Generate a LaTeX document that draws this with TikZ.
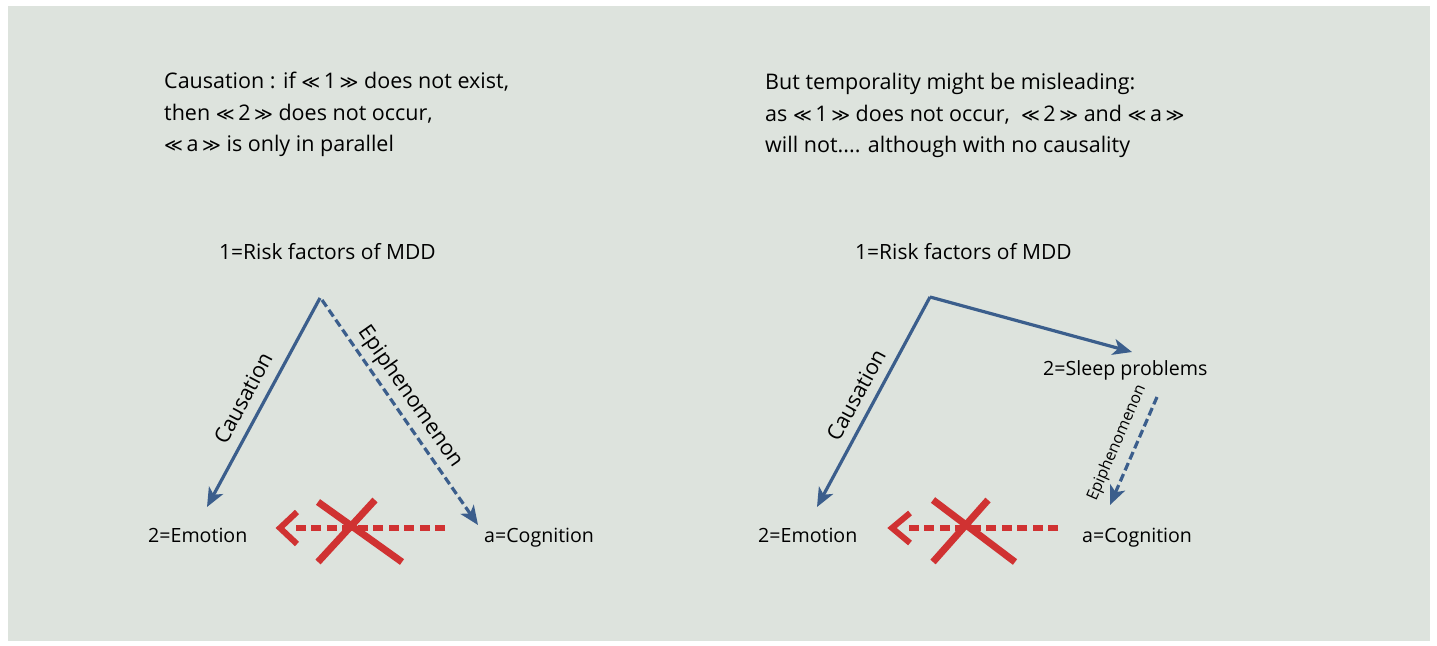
\documentclass[tikz,border=0pt]{standalone}
\usepackage{fontspec}
\setmainfont{Open Sans}
\newfontfamily\symf{DejaVu Sans}
\usetikzlibrary{arrows.meta}
\definecolor{bgc}{RGB}{221,227,221}
\definecolor{arrblue}{RGB}{59,94,140}
\definecolor{xred}{RGB}{208,50,50}
\newcommand\lls{{\symf\fontsize{18}{18}\selectfont ≪}}
\newcommand\ggs{{\symf\fontsize{18}{18}\selectfont ≫}}
\begin{document}
\begin{tikzpicture}[x=1pt,y=-1pt,
  txt/.style={font=\fontsize{21.5}{21.5}\selectfont, inner sep=0pt, anchor=base west},
  risk/.style={font=\fontsize{21}{21}\selectfont, inner sep=0pt, anchor=base west},
  lbl/.style={font=\fontsize{19.6}{19.6}\selectfont, inner sep=0pt, anchor=base west},
  edgelbl/.style={font=\fontsize{21.5}{21.5}\selectfont, inner sep=0pt},
  smalllbl/.style={font=\fontsize{16}{16}\selectfont, inner sep=0pt},
  barrow/.style={draw=arrblue, line width=3.2pt, -{Stealth[length=19pt,width=16pt,inset=5pt]}},
  bdash/.style={barrow, dash pattern=on 8pt off 4pt},
  rdash/.style={draw=xred, line width=6pt, dash pattern=on 10pt off 5.5pt},
  rhead/.style={draw=xred, line width=6pt, miter limit=10},
  rcross/.style={draw=xred, line width=7pt}
]
\useasboundingbox (0,0) rectangle (1437,645);
\fill[bgc] (8,6) rectangle (1430,641);

% ---------- left panel ----------
\node[txt] (lt1) at (164,88) {Causation : if \lls\,1\,\ggs\ does not exist,};
\node[txt] (lt2) at (164,120) {then \lls\,2\,\ggs\ does not occur,};
\node[txt] (lt3) at (164,151) {\lls\,a\,\ggs\ is only in parallel};

\node[risk] (lrisk) at (219,259) {1=Risk factors of MDD};
\node[lbl] (lemo) at (148,542) {2=Emotion};
\node[lbl] (lcog) at (484,542) {a=Cognition};

\coordinate (lapex) at (320,298);
\coordinate (lapex2) at (322,300);
\coordinate (lemot) at (207,507);
\coordinate (lcogt) at (478,525);
\draw[barrow] (lapex) -- (lemot);
\draw[bdash] (lapex2) -- (lcogt);
\node[edgelbl, rotate=62] (lcaus) at (243,398) {Causation};
\node[edgelbl, rotate=-55] (lepi) at (410,397) {Epiphenomenon};

\coordinate (lrs) at (445,528);
\coordinate (lre) at (296,528);
\coordinate (lha) at (297,512);
\coordinate (lht) at (280,528);
\coordinate (lhb) at (297,544);
\draw[rdash] (lrs) -- (lre);
\draw[rhead] (lha) -- (lht) -- (lhb);
\coordinate (lx1) at (318,502); \coordinate (lx2) at (402,562);
\coordinate (lx3) at (375,500); \coordinate (lx4) at (318,562);
\draw[rcross] (lx1) -- (lx2);
\draw[rcross] (lx3) -- (lx4);

% ---------- right panel ----------
\node[txt] (rt1) at (765,89) {But temporality might be misleading:};
\node[txt] (rt2) at (765,121) {as \lls\,1\,\ggs\ does not occur,\ \ \lls\,2\,\ggs\ and \lls\,a\,\ggs};
\node[txt] (rt3) at (765,152) {will not.... although with no causality};

\node[risk] (rrisk) at (855,259) {1=Risk factors of MDD};
\node[lbl] (rsleep) at (1043,375) {2=Sleep problems};
\node[lbl] (remo) at (758,542) {2=Emotion};
\node[lbl] (rcog) at (1082,542) {a=Cognition};

\coordinate (rapex) at (930,297);
\coordinate (rsleept) at (1132,352);
\coordinate (remot) at (817,507);
\coordinate (rsl) at (1157,397);
\coordinate (rcogt) at (1110,505);
\draw[barrow] (rapex) -- (remot);
\draw[barrow] (rapex) -- (rsleept);
\draw[bdash] (rsl) -- (rcogt);
\node[edgelbl, rotate=61.5] (rcaus) at (856,395) {Causation};
\node[smalllbl, rotate=66.5] (repi) at (1117,443) {Epiphenomenon};

\coordinate (rrs) at (1058,528);
\coordinate (rre) at (909,528);
\coordinate (rha) at (910,513);
\coordinate (rht) at (892,528);
\coordinate (rhb) at (910,543);
\draw[rdash] (rrs) -- (rre);
\draw[rhead] (rha) -- (rht) -- (rhb);
\coordinate (rx1) at (933,500); \coordinate (rx2) at (1015,562);
\coordinate (rx3) at (988,500); \coordinate (rx4) at (933,562);
\draw[rcross] (rx1) -- (rx2);
\draw[rcross] (rx3) -- (rx4);
\end{tikzpicture}
\end{document}
